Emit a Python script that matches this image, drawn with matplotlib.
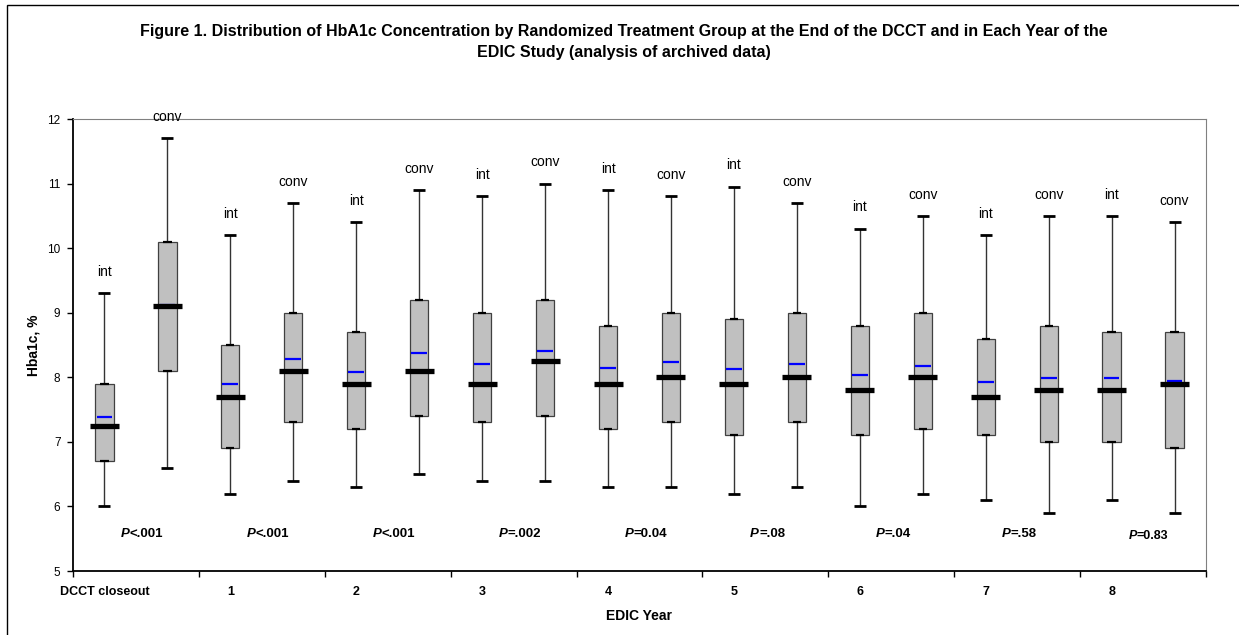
import matplotlib
matplotlib.use('Agg')
import matplotlib.pyplot as plt
from matplotlib.patches import Rectangle

# Arial-like font
plt.rcParams['font.family'] = ['Liberation Sans', 'DejaVu Sans']

# data
years = ['DCCT closeout', '1', '2', '3', '4', '5', '6', '7', '8']
groups = ['int', 'conv'] * 9
whis_hi = [9.3, 11.7, 10.2, 10.7, 10.4, 10.9, 10.8, 11.0, 10.9,
           10.8, 10.95, 10.7, 10.3, 10.5, 10.2, 10.5, 10.5, 10.4]
q3 = [7.9, 10.1, 8.5, 9.0, 8.7, 9.2, 9.0, 9.2, 8.8,
      9.0, 8.9, 9.0, 8.8, 9.0, 8.6, 8.8, 8.7, 8.7]
means = [7.39, 9.12, 7.89, 8.29, 8.08, 8.37, 8.21, 8.41, 8.14,
         8.24, 8.13, 8.21, 8.03, 8.18, 7.92, 7.99, 7.99, 7.95]
medians = [7.25, 9.1, 7.7, 8.1, 7.9, 8.1, 7.9, 8.25, 7.9,
           8.0, 7.9, 8.0, 7.8, 8.0, 7.7, 7.8, 7.8, 7.9]
q1 = [6.7, 8.1, 6.9, 7.3, 7.2, 7.4, 7.3, 7.4, 7.2,
      7.3, 7.1, 7.3, 7.1, 7.2, 7.1, 7.0, 7.0, 6.9]
whis_lo = [6.0, 6.6, 6.2, 6.4, 6.3, 6.5, 6.4, 6.4, 6.3,
           6.3, 6.2, 6.3, 6.0, 6.2, 6.1, 5.9, 6.1, 5.9]
p_values = ['<.001', '<.001', '<.001', '=.002', '=0.04', '=.08', '=.04', '=.58', '=0.83']

W, H = 1239, 635
fig = plt.figure(figsize=(W / 100, H / 100), dpi=100)
ax = fig.add_axes([73 / W, 1 - 571 / H, (1206 - 73) / W, (571 - 119) / H])

x = list(range(len(groups)))

# whiskers, caps, box
ax.vlines(x, q3, whis_hi, color='#333333', lw=1, zorder=1)
ax.vlines(x, whis_lo, q1, color='#333333', lw=1, zorder=1)
ax.hlines(whis_hi, [i - 0.095 for i in x], [i + 0.095 for i in x], color='black', lw=2, zorder=2)
ax.hlines(whis_lo, [i - 0.095 for i in x], [i + 0.095 for i in x], color='black', lw=2, zorder=2)
ax.bar(x, [a - b for a, b in zip(q3, q1)], bottom=q1, width=0.29,
       color='#c0c0c0', edgecolor='#404040', lw=0.9, zorder=3)
ax.hlines(q3, [i - 0.065 for i in x], [i + 0.065 for i in x], color='black', lw=1.6, zorder=4)
ax.hlines(q1, [i - 0.065 for i in x], [i + 0.065 for i in x], color='black', lw=1.6, zorder=4)

# mean (blue) and median (thick black)
ax.hlines(means, [i - 0.125 for i in x], [i + 0.125 for i in x], color='#0000ff', lw=1.6, zorder=5)
ax.hlines(medians, [i - 0.23 for i in x], [i + 0.23 for i in x], color='black', lw=3.8, zorder=6)

# group labels above the whiskers
for i, g in enumerate(groups):
    ax.text(i, whis_hi[i] + 0.33, g, ha='center', va='center', fontsize=10, clip_on=False)

# P values
for k, p in enumerate(p_values):
    xc = 2 * k + 0.5
    yp = 5.58
    fs = 9.5
    if k == len(p_values) - 1:
        yp = 5.54
        fs = 9
    ax.text(xc - 0.1, yp, 'P', ha='right', va='center', fontsize=fs,
            fontweight='bold', fontstyle='italic')
    ax.text(xc - 0.1, yp, p, ha='left', va='center', fontsize=fs, fontweight='bold')

ax.set_xlim(-0.5, len(groups) - 0.5)
ax.set_ylim(5, 12)
ax.set_yticks(range(5, 13))
ax.tick_params(axis='y', direction='out', length=4, width=1, labelsize=8.5, pad=5)

# tick marks between years, labels under the "int" boxes
ax.set_xticks([i - 0.5 for i in range(0, len(groups) + 1, 2)])
ax.set_xticklabels([])
ax.tick_params(axis='x', which='major', direction='out', length=4, width=1)
ax.set_xticks(list(range(0, len(groups), 2)), labels=years, minor=True)
ax.tick_params(axis='x', which='minor', length=0, pad=11, labelsize=9)
for t in ax.get_xticklabels(minor=True):
    t.set_fontweight('bold')

for s in ['left', 'bottom']:
    ax.spines[s].set_color('black')
    ax.spines[s].set_linewidth(1.3)
for s in ['top', 'right']:
    ax.spines[s].set_color('#808080')
    ax.spines[s].set_linewidth(0.8)

ax.set_xlabel('EDIC Year', fontsize=10, fontweight='bold', labelpad=8)
ax.set_ylabel('Hba1c, %', fontsize=10, fontweight='bold', labelpad=4.5)

# two-line title
fig.text(624 / W, 1 - 36 / H,
         'Figure 1. Distribution of HbA1c Concentration by Randomized Treatment Group at the End of the DCCT and in Each Year of the',
         ha='center', va='baseline', fontsize=11.5, fontweight='bold')
fig.text(624 / W, 1 - 57 / H, 'EDIC Study (analysis of archived data)',
         ha='center', va='baseline', fontsize=11.5, fontweight='bold')

# outer chart frame (only left/top inside the picture)
fig.patches.append(Rectangle((7 / W, -0.1), 1.2, 1 - 5 / H + 0.1, transform=fig.transFigure,
                             fill=False, edgecolor='black', lw=1, clip_on=False))

fig.savefig('out.png', dpi=100)
